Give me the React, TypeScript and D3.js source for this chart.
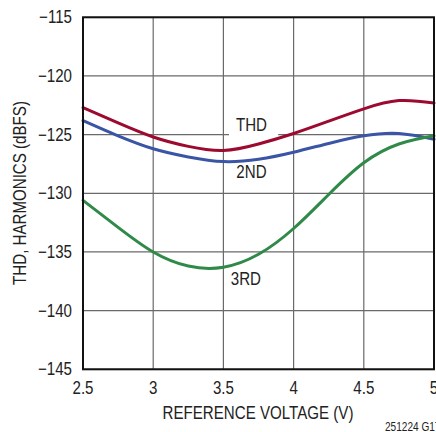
import * as d3 from 'd3';

const W = 436, H = 432;
const M = { top: 17.3, right: 2, bottom: 62.7, left: 83 };
const IW = W - M.left - M.right;
const IH = H - M.top - M.bottom;

const VOLTS = [2.5, 2.75, 3, 3.25, 3.5, 3.75, 4, 4.25, 4.5, 4.75, 5];
const THD = [-122.7, -124.0, -125.2, -126.0, -126.35, -125.8, -124.9, -123.85, -122.8, -122.1, -122.3];
const H2 = [-123.8, -125.1, -126.2, -126.9, -127.3, -127.1, -126.5, -125.75, -125.1, -124.9, -125.4];
const H3 = [-130.6, -132.9, -135.0, -136.2, -136.3, -135.2, -133.0, -130.1, -127.4, -125.8, -125.1];

const X_TICKS = [2.5, 3, 3.5, 4, 4.5, 5];
const Y_TICKS = [-115, -120, -125, -130, -135, -140, -145];

const SERIES = [
  { name: 'THD', values: THD, color: '#9c0a30', lx: 3.7, ly: -124.2 },
  { name: '2ND', values: H2, color: '#3b55a6', lx: 3.7, ly: -128.2 },
  { name: '3RD', values: H3, color: '#2f8a48', lx: 3.66, ly: -137.3 },
];

const FONT = '"Liberation Sans", Arial, sans-serif';
const SQUEEZE = 0.84; // narrow the face like a condensed Helvetica

// text drawn with a horizontal squeeze, anchored at (x, y)
function NText({ x, y, anchor = 'middle', size = 18, rotate = 0, children }: {
  x: number; y: number; anchor?: string; size?: number; rotate?: number; children: React.ReactNode;
}) {
  return (
    <text transform={`translate(${x},${y}) rotate(${rotate}) scale(${SQUEEZE},1)`}
      textAnchor={anchor} dominantBaseline="central" fontSize={size} fill="#222">
      {children}
    </text>
  );
}

export default function App() {
  const x = d3.scaleLinear().domain([2.5, 5]).range([M.left, M.left + IW]);
  const y = d3.scaleLinear().domain([-145, -115]).range([M.top + IH, M.top]);
  const line = d3.line<number>()
    .x((_, i) => x(VOLTS[i]))
    .y(v => y(v))
    .curve(d3.curveNatural);

  return (
    <div style={{ position: 'fixed', left: 0, top: 0, background: '#fff' }}>
      <svg width={W} height={H} viewBox={`0 0 ${W} ${H}`} style={{ display: 'block', fontFamily: FONT }}>
        <rect width={W} height={H} fill="#fff" />
        {/* grid */}
        {Y_TICKS.map(t => (
          <line key={'gy' + t} x1={M.left} x2={M.left + IW} y1={y(t)} y2={y(t)} stroke="#6a6a6a" strokeWidth={1.2} />
        ))}
        {X_TICKS.map(t => (
          <line key={'gx' + t} x1={x(t)} x2={x(t)} y1={M.top} y2={M.top + IH} stroke="#6a6a6a" strokeWidth={1.2} />
        ))}
        {/* gap behind THD label */}
        <rect x={x(3.54)} width={x(3.89) - x(3.54)} y={y(-125) - 2} height={4} fill="#fff" />

        {/* curves */}
        {SERIES.map(s => (
          <path key={s.name} d={line(s.values) ?? ''} fill="none" stroke={s.color} strokeWidth={3}
            strokeLinejoin="round" strokeLinecap="round" />
        ))}

        {/* frame */}
        <rect x={M.left} y={M.top} width={IW} height={IH} fill="none" stroke="#111" strokeWidth={2} />

        {/* series labels */}
        {SERIES.map(s => (
          <NText key={'l' + s.name} x={x(s.lx)} y={y(s.ly)}>{s.name}</NText>
        ))}

        {Y_TICKS.map(t => (
          <NText key={'ty' + t} x={M.left - 11} y={y(t)} anchor="end">{'\u2212' + Math.abs(t)}</NText>
        ))}
        {X_TICKS.map(t => (
          <NText key={'tx' + t} x={x(t)} y={388}>{t}</NText>
        ))}

        <NText x={258} y={413}>REFERENCE VOLTAGE (V)</NText>
        <NText x={20} y={193} rotate={-90}>THD, HARMONICS (dBFS)</NText>
        <NText x={385} y={427} anchor="start" size={12}>251224 G17</NText>
      </svg>
    </div>
  );
}
